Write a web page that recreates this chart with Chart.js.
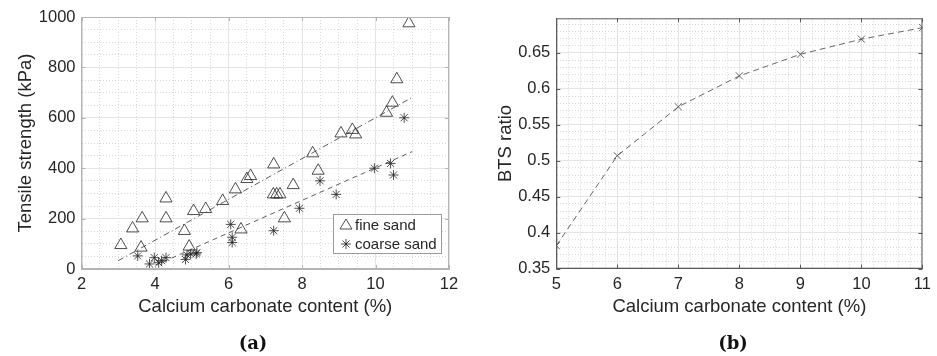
<!DOCTYPE html>
<html>
<head>
<meta charset="utf-8">
<script src="https://cdn.jsdelivr.net/npm/chart.js"></script>
<style>
  body { margin: 0; background: #fff; }
  #wrap { position: relative; width: 937px; height: 356px; }
  canvas { position: absolute; top: 0; }
  #c1 { left: 0; }
  #c2 { left: 470px; }
  .sub { position: absolute; top: 332px; font: bold 18px "DejaVu Serif", serif; color: #111; transform: translateX(-50%); }
</style>
</head>
<body>
<div id="wrap">
  <canvas id="c1" width="470" height="356"></canvas>
  <canvas id="c2" width="467" height="356"></canvas>
  <div class="sub" style="left:253px">(a)</div>
  <div class="sub" style="left:733px">(b)</div>
</div>
<script>
// (a) tensile strength vs calcium carbonate content
const fineX = [3.07, 3.39, 3.62, 3.65, 4.30, 4.30, 4.80, 4.93, 5.05, 5.38, 5.84, 6.19, 6.34, 6.50, 6.60,
               7.22, 7.23, 7.31, 7.40, 7.52, 7.76, 8.29, 8.44, 9.06, 9.37, 9.46, 10.30, 10.46, 10.58, 10.91];
const fineY = [95, 161, 85, 201, 280, 201, 151, 89, 230, 238, 270, 316, 157, 357, 369,
               296, 415, 296, 296, 201, 333, 459, 390, 538, 552, 534, 620, 660, 753, 975];
const coarseX = [3.53, 3.85, 3.98, 4.10, 4.18, 4.30, 4.83, 4.87, 4.97, 5.12, 5.14, 6.06, 6.10, 6.10,
                 7.23, 7.93, 8.49, 8.93, 9.97, 10.41, 10.49, 10.78];
const coarseY = [52, 20, 45, 25, 33, 45, 38, 56, 60, 60, 65, 177, 126, 105,
                 152, 241, 350, 296, 400, 419, 373, 600];
const fineFitX = [3, 11];
const fineFitY = [33, 681];
const coarseFitX = [4, 11];
const coarseFitY = [14, 466];
const xTicksA = [2, 4, 6, 8, 10, 12];
const yTicksA = [0, 200, 400, 600, 800, 1000];

// (b) BTS ratio
const btsX = [5, 6, 7, 8, 9, 10, 11];
const btsY = [0.382, 0.507, 0.575, 0.618, 0.648, 0.669, 0.685];
const xTicksB = [5, 6, 7, 8, 9, 10, 11];
const yTicksB = [0.35, 0.4, 0.45, 0.5, 0.55, 0.6, 0.65];

const FONT = '"Liberation Sans", Arial, sans-serif';
const TXT = '#262626';

function pts(xs, ys) { return xs.map((x, i) => ({ x: x, y: ys[i] })); }
function isMajor(v, majors) { return majors.some(m => Math.abs(m - v) < 1e-6); }

// axis with dotted minor grid and solid major grid
function axis(min, max, minor, majors, title, size, extra) {
  return {
    type: 'linear', min: min, max: max,
    afterBuildTicks: s => {
      const n = Math.floor((max - min) / minor + 1e-6);
      const t = [];
      for (let i = 0; i <= n; i++) t.push({ value: +(min + i * minor).toFixed(6) });
      s.ticks = t;
    },
    ticks: {
      autoSkip: false, maxRotation: 0, padding: 6, color: TXT,
      font: { family: FONT, size: 16.5 },
      callback: v => isMajor(v, majors) ? String(+v.toFixed(4)) : ''
    },
    grid: {
      drawTicks: false,
      color: c => c.tick && isMajor(c.tick.value, majors) ? '#e4e4e4' : '#d8d8d8',
      lineWidth: 1
    },
    border: {
      display: true, color: extra.edge, width: 1,
      dash: c => (c.tick && !isMajor(c.tick.value, majors)) ? [1, 2] : []
    },
    title: { display: true, text: title, color: TXT, font: { family: FONT, size: 18.5 }, padding: extra.tp },
    afterFit: s => { if (s.isHorizontal()) s.height = size; else s.width = size; }
  };
}

// box round the plot plus small inward ticks
function boxPlugin(edge, xm, ym) {
  return {
    id: 'box',
    afterDraw(chart) {
      const { ctx, chartArea: a, scales } = chart;
      ctx.save();
      ctx.strokeStyle = edge; ctx.lineWidth = 1;
      ctx.strokeRect(a.left + 0.5, a.top + 0.5, a.right - a.left - 1, a.bottom - a.top - 1);
      ctx.beginPath();
      xm.forEach(v => {
        const px = Math.round(scales.x.getPixelForValue(v)) + 0.5;
        ctx.moveTo(px, a.bottom); ctx.lineTo(px, a.bottom - 4);
        ctx.moveTo(px, a.top); ctx.lineTo(px, a.top + 4);
      });
      ym.forEach(v => {
        const py = Math.round(scales.y.getPixelForValue(v)) + 0.5;
        ctx.moveTo(a.left, py); ctx.lineTo(a.left + 4, py);
        ctx.moveTo(a.right, py); ctx.lineTo(a.right - 4, py);
      });
      ctx.stroke();
      ctx.restore();
    }
  };
}

const legendPlugin = {
  id: 'boxLegend',
  afterDraw(chart) {
    const { ctx, chartArea: a } = chart;
    const w = 108, h = 39;
    const x0 = a.right - 8 - w, y0 = a.bottom - 16 - h;
    ctx.save();
    ctx.fillStyle = '#fff';
    ctx.fillRect(x0, y0, w, h);
    ctx.strokeStyle = '#9a9a9a'; ctx.lineWidth = 1;
    ctx.strokeRect(x0 + 0.5, y0 + 0.5, w, h);
    ctx.strokeStyle = '#222'; ctx.lineWidth = 0.8;
    // triangle
    const mx = x0 + 13, r1 = y0 + 11, r2 = y0 + 30;
    ctx.beginPath();
    ctx.moveTo(mx, r1 - 6); ctx.lineTo(mx + 6, r1 + 4); ctx.lineTo(mx - 6, r1 + 4); ctx.closePath();
    ctx.stroke();
    // asterisk
    ctx.beginPath();
    for (let k = 0; k < 4; k++) {
      const ang = k * Math.PI / 4;
      ctx.moveTo(mx - 5 * Math.cos(ang), r2 - 5 * Math.sin(ang));
      ctx.lineTo(mx + 5 * Math.cos(ang), r2 + 5 * Math.sin(ang));
    }
    ctx.stroke();
    ctx.fillStyle = TXT;
    ctx.font = '15px ' + FONT;
    ctx.textBaseline = 'middle';
    ctx.fillText('fine sand', x0 + 22, r1 + 1);
    ctx.fillText('coarse sand', x0 + 22, r2 + 1);
    ctx.restore();
  }
};

const EDGE_A = '#b4b4b4';
new Chart(document.getElementById('c1'), {
  type: 'scatter',
  data: {
    datasets: [
      { label: 'fine sand', data: pts(fineX, fineY), pointStyle: 'triangle', pointRadius: 7,
        borderColor: '#222', backgroundColor: 'rgba(0,0,0,0)', borderWidth: 0.8 },
      { label: 'coarse sand', data: pts(coarseX, coarseY), pointStyle: 'star', pointRadius: 5,
        borderColor: '#222', borderWidth: 0.8 },
      { label: 'fine fit', data: pts(fineFitX, fineFitY), showLine: true, pointRadius: 0,
        borderColor: '#333', borderWidth: 0.8, borderDash: [6, 3, 1, 3] },
      { label: 'coarse fit', data: pts(coarseFitX, coarseFitY), showLine: true, pointRadius: 0,
        borderColor: '#333', borderWidth: 0.8, borderDash: [5, 4] }
    ]
  },
  options: {
    responsive: false, animation: false,
    layout: { padding: { top: 17, right: 21, left: 0, bottom: 25 } },
    plugins: { legend: { display: false }, tooltip: { enabled: false } },
    scales: {
      x: axis(2, 12, 0.5, xTicksA, 'Calcium carbonate content (%)', 62, { edge: EDGE_A, tp: { bottom: 13 } }),
      y: axis(0, 1000, 50, yTicksA, 'Tensile strength (kPa)', 81.5, { edge: EDGE_A, tp: { top: 14.6 } })
    }
  },
  plugins: [boxPlugin(EDGE_A, xTicksA, yTicksA), legendPlugin]
});

const EDGE_B = '#5a5a5a';
new Chart(document.getElementById('c2'), {
  type: 'scatter',
  data: {
    datasets: [
      { label: 'BTS ratio', data: pts(btsX, btsY), showLine: true, pointStyle: 'crossRot', pointRadius: 5,
        borderColor: '#555', backgroundColor: '#555', borderWidth: 0.9, borderDash: [6, 4] }
    ]
  },
  options: {
    responsive: false, animation: false,
    layout: { padding: { top: 18.3, right: 8, left: 0, bottom: 25 } },
    plugins: { legend: { display: false }, tooltip: { enabled: false } },
    scales: {
      x: axis(5, 11, 0.2, xTicksB, 'Calcium carbonate content (%)', 62.3, { edge: EDGE_B, tp: { bottom: 13 } }),
      y: axis(0.35, 0.698, 0.01, yTicksB, 'BTS ratio', 86.3, { edge: EDGE_B, tp: { top: 24.9 } })
    }
  },
  plugins: [boxPlugin(EDGE_B, xTicksB, yTicksB)]
});
</script>
</body>
</html>
